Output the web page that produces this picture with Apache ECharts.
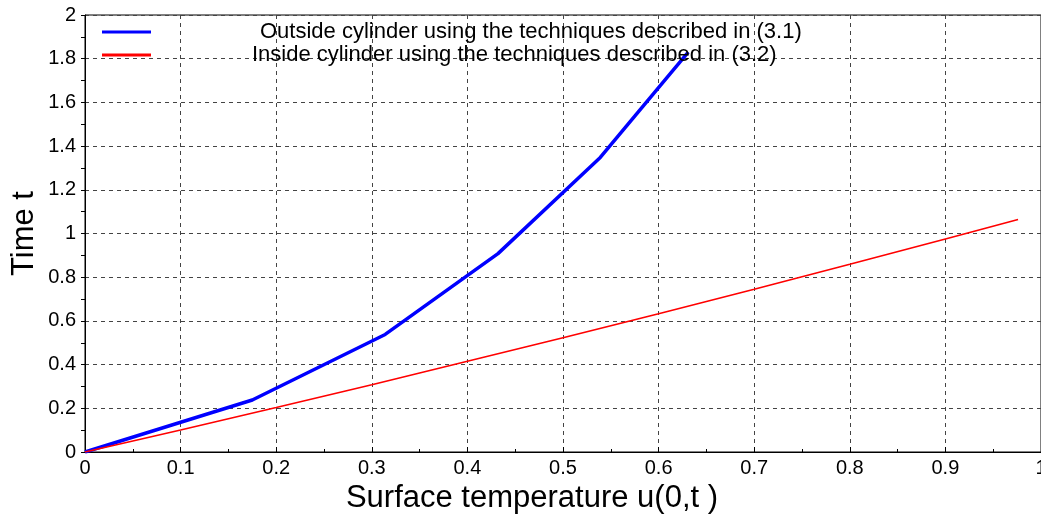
<!DOCTYPE html>
<html>
<head>
<meta charset="utf-8">
<script src="https://cdn.jsdelivr.net/npm/echarts@6/dist/echarts.min.js"></script>
<style>
html, body { margin: 0; padding: 0; background: #fff; }
#chart { width: 1041px; height: 518px; }
</style>
</head>
<body>
<div id="chart"></div>
<script>
var outsideName = 'Outside cylinder using the techniques described in (3.1)';
var insideName = 'Inside cylinder using the techniques described in (3.2)';

// u(0,t) and t for each series
var outsideU = [0, 0.175, 0.314, 0.432, 0.539, 0.631];
var outsideT = [0, 0.238, 0.538, 0.908, 1.348, 1.83];
var insideU = [0, 0.1, 0.2, 0.3, 0.4, 0.5, 0.6, 0.7, 0.8, 0.9, 0.976];
var insideT = [0, 0.101, 0.204, 0.308, 0.415, 0.523, 0.633, 0.745, 0.859, 0.975, 1.064];

var yTickLabels = ['0', '0.2', '0.4', '0.6', '0.8', '1', '1.2', '1.4', '1.6', '1.8', '2'];
var xTickLabels = ['0', '0.1', '0.2', '0.3', '0.4', '0.5', '0.6', '0.7', '0.8', '0.9', '1'];

function pairs(xs, ys) {
    var out = [];
    for (var i = 0; i < xs.length; i++) {
        out.push([xs[i], ys[i]]);
    }
    return out;
}

var font = 'Liberation Sans, Arial, Helvetica, sans-serif';
var myChart = echarts.init(document.getElementById('chart'));

myChart.setOption({
    animation: false,
    textStyle: { fontFamily: font },
    grid: {
        left: 85, top: 15, right: 0, bottom: 66,
        outerBoundsMode: 'none',
        containLabel: false,
        show: true, borderColor: '#000', borderWidth: 1
    },
    legend: {
        orient: 'vertical',
        left: 97, top: 16,
        itemWidth: 49, itemHeight: 3,
        itemGap: 1,
        icon: 'rect',
        selectedMode: false,
        textStyle: { fontSize: 22, lineHeight: 22, color: '#000', fontFamily: font },
        data: [
            { name: outsideName, textStyle: { padding: [0, 0, 0, 104] } },
            { name: insideName, textStyle: { padding: [0, 0, 0, 96] } }
        ]
    },
    xAxis: {
        type: 'value',
        min: 0, max: 1, interval: 0.1,
        name: 'Surface temperature u(0,t )',
        nameLocation: 'middle',
        nameGap: 30,
        nameTextStyle: { fontSize: 31, color: '#000', padding: [0, 62, 0, 0] },
        axisLine: { lineStyle: { color: '#000', width: 1 } },
        axisTick: { inside: true, length: 5, lineStyle: { color: '#000' } },
        minorTick: { show: true, splitNumber: 2, length: 3, lineStyle: { color: '#000' } },
        axisLabel: {
            fontSize: 20, color: '#000', margin: 6,
            formatter: function (v) { return xTickLabels[Math.round(v * 10)]; }
        },
        splitLine: { show: true, lineStyle: { color: '#444', type: [4, 4], width: 1 } }
    },
    yAxis: {
        type: 'value',
        min: 0, max: 2, interval: 0.2,
        name: 'Time t',
        nameLocation: 'middle',
        nameMoveOverlap: false,
        nameGap: 45,
        nameTextStyle: { fontSize: 31, color: '#000' },
        axisLine: { lineStyle: { color: '#000', width: 1 } },
        axisTick: { inside: false, length: 4, lineStyle: { color: '#000' } },
        minorTick: { show: true, splitNumber: 2, length: 4, lineStyle: { color: '#000' } },
        axisLabel: {
            fontSize: 20, color: '#000', margin: 9,
            formatter: function (v) { return yTickLabels[Math.round(v * 5)]; }
        },
        splitLine: { show: true, lineStyle: { color: '#444', type: [4, 4], width: 1 } }
    },
    series: [
        {
            name: outsideName,
            type: 'line',
            data: pairs(outsideU, outsideT),
            showSymbol: false,
            color: '#0000ff',
            lineStyle: { color: '#0000ff', width: 3.5 },
            itemStyle: { color: '#0000ff' }
        },
        {
            name: insideName,
            type: 'line',
            data: pairs(insideU, insideT),
            showSymbol: false,
            color: '#ff0000',
            lineStyle: { color: '#ff0000', width: 1.6 },
            itemStyle: { color: '#ff0000' }
        }
    ]
});

window.onresize = function () {
    myChart.resize();
};
</script>
</body>
</html>
